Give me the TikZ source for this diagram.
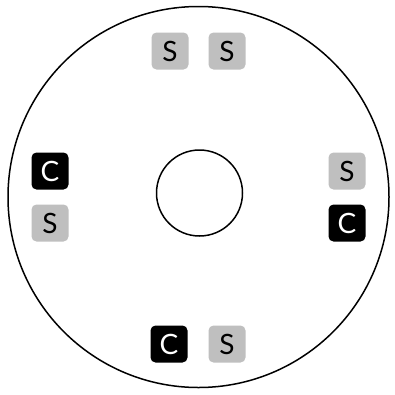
\documentclass[tikz,border=0pt]{standalone}
\usepackage{fontspec}
\setmainfont{Lato}
\usepackage{xcolor,tikz}
\usetikzlibrary{positioning}
\definecolor{SeatGray}{HTML}{BFBFBF}
\tikzset{every node/.style={font=\fontsize{28}{32}\selectfont},
 seat/.style={rounded corners=5pt,minimum size=37pt,inner sep=0pt},
 seatS/.style={seat,fill=SeatGray,text=black},
 seatC/.style={seat,fill=black,text=white},
 rim/.style={draw=black,line width=1.5pt}}
\begin{document}
\begin{tikzpicture}[x=1pt,y=-1pt]
\useasboundingbox (0,0) rectangle (395,394);
\node[rim,circle,minimum size=381pt,inner sep=0pt] (table) at (198.5,197) {};
\node[rim,circle,minimum size=86pt,inner sep=0pt] (hub) at (199.5,193) {};
% seats round the table
\foreach \x/\y/\k/\n in {170/51/S/t1,227/51/S/t2,50/171/C/l1,50/223/S/l2,
 347/171/S/r1,347/223/C/r2,169/344/C/b1,227/344/S/b2}{
 \node[seat\k] (\n) at (\x,\y) {\k};
}
\end{tikzpicture}
\end{document}
